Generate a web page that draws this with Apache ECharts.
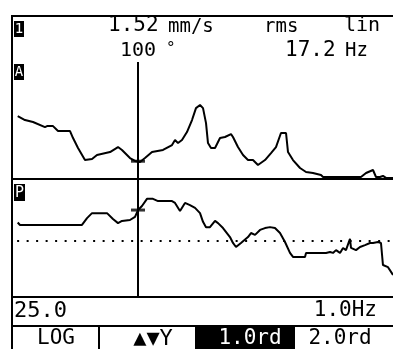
<!DOCTYPE html>
<html><head><meta charset="utf-8">
<script src="https://cdn.jsdelivr.net/npm/echarts@6/dist/echarts.min.js"></script>
<style>html,body{margin:0;padding:0;background:#fff}#c{width:393px;height:349px}</style>
</head><body><div id="c"></div>
<script>
// Spectrum (amplitude, mm/s) vs frequency (Hz)
var ampFreq = [0.78,1.77,2.87,4.50,4.78,5.60,6.28,7.92,8.33,9.01,9.96,10.92,11.60,13.38,14.47,15.01,16.10,16.79,17.47,18.15,19.11,20.61,21.84,22.25,22.66,23.20,23.88,24.57,25.11,25.66,26.07,26.48,26.75,27.16,27.71,28.39,29.07,29.89,30.16,30.84,31.53,32.21,32.89,33.57,34.53,35.35,36.03,36.71,37.40,37.67,38.35,39.31,40.13,41.08,42.17,42.45,46.81,47.63,48.32,49.27,49.68,50.22,50.63,51.04,52.0];
var ampVals = [5.38,5.04,4.87,4.44,4.52,4.52,4.10,4.10,3.50,2.65,1.62,1.71,2.05,2.30,2.73,2.48,1.79,1.54,1.45,1.79,2.30,2.48,2.90,3.33,3.07,3.33,4.01,5.04,6.06,6.32,6.06,4.78,3.07,2.65,2.65,3.50,3.59,3.84,3.59,2.73,2.05,1.62,1.62,1.20,1.62,2.22,2.73,3.93,3.93,2.30,1.62,0.94,0.60,0.51,0.34,0.17,0.17,0.17,0.51,0.77,0.17,0.17,0.26,0.09,0.09];
// Phase (deg) vs frequency (Hz)
var phaseFreq = [0.78,1.09,9.55,10.24,10.92,12.97,13.78,14.47,15.01,16.10,16.79,17.2,17.74,18.42,19.24,19.93,21.84,22.25,22.93,23.61,24.29,24.98,25.66,26.07,26.48,27.02,27.71,28.12,28.80,29.75,30.16,30.57,31.25,32.21,32.62,33.17,33.85,34.53,35.21,35.89,36.58,37.26,37.94,38.35,39.99,40.13,42.86,43.40,43.81,44.22,44.77,45.18,45.58,46.13,46.27,46.95,47.50,48.18,48.86,49.27,49.95,50.36,50.63,51.32,52.0];
var phaseVals = [60,52,52,74,90,90,71,58,65,68,78,100,113,136,136,129,129,123,97,123,116,107,90,62,45,45,65,58,42,13,-6,-19,-6,13,26,20,36,42,45,42,26,-3,-38,-51,-51,-38,-38,-35,-38,-29,-38,-22,-29,7,-22,-29,-19,-13,-6,-6,-3,-6,-77,-84,-109];
var cursorFreq = 17.2, cursorAmp = 1.52, cursorPhase = 100;
var headerTexts = ["1.52", "mm/s", "rms", "lin", "100", "°", "17.2", "Hz"];
var footerTexts = ["25.0", "1.0Hz"];
var buttonTexts = ["LOG", "▲▼Y", "1.0rd", "2.0rd"];

function pairs(xs, ys){ return xs.map(function(x,i){ return [x, ys[i]]; }); }
var F = '"DejaVu Sans Mono", monospace';
function txt(x, y, s, size, align, color){
  return {type:'text', x:x, y:y, silent:true, style:{text:s, fill:color||'#000', font:size+'px '+F, textAlign:align||'left', textVerticalAlign:'middle'}};
}
function ln(x1,y1,x2,y2,w){ return {type:'line', silent:true, shape:{x1:x1,y1:y1,x2:x2,y2:y2}, style:{stroke:'#000', lineWidth:w||2}}; }
function rc(x,y,w,h){ return {type:'rect', silent:true, shape:{x:x,y:y,width:w,height:h}, style:{fill:'#000'}}; }

var chart = echarts.init(document.getElementById('c'), null, {renderer:'canvas'});
var axisX = function(idx){ return {type:'value', gridIndex:idx, min:0, max:52, axisLine:{show:true, onZero:false, lineStyle:{color:'#000', width:2}}, axisTick:{show:false}, axisLabel:{show:false}, splitLine:{show:false}}; };
var cursorLine = {silent:true, symbol:['none','none'], label:{show:false}, lineStyle:{color:'#000', width:2, type:'solid'}, data:[{xAxis:cursorFreq}]};
chart.setOption({
  animation:false,
  backgroundColor:'#fff',
  grid:[{left:12, right:0, top:62, height:117}, {left:12, right:0, top:179, height:118}],
  xAxis:[axisX(0), axisX(1)],
  yAxis:[
    {type:'value', gridIndex:0, min:0, max:10, show:false},
    {type:'value', gridIndex:1, min:-180, max:200, show:false}
  ],
  series:[
    {type:'line', xAxisIndex:0, yAxisIndex:0, data:pairs(ampFreq, ampVals), symbol:'none', lineStyle:{color:'#000', width:2}, markLine:cursorLine},
    {type:'line', xAxisIndex:1, yAxisIndex:1, data:pairs(phaseFreq, phaseVals), symbol:'none', lineStyle:{color:'#000', width:2},
      markLine:{silent:true, symbol:['none','none'], label:{show:false}, data:[{xAxis:cursorFreq, lineStyle:{color:'#000', width:2, type:'solid'}}, [{coord:[0.7,0], lineStyle:{color:'#000', width:2, type:[2,7.5]}}, {coord:[52,0]}]]}},
    {type:'scatter', xAxisIndex:0, yAxisIndex:0, data:[[cursorFreq, cursorAmp]], symbol:'rect', symbolSize:[14,3], itemStyle:{color:'#000'}},
    {type:'scatter', xAxisIndex:1, yAxisIndex:1, data:[[cursorFreq, cursorPhase]], symbol:'rect', symbolSize:[14,3], itemStyle:{color:'#000'}}
  ],
  graphic:[
    ln(11,16,393,16,2), ln(12,15,12,349,2), ln(11,326,393,326,2),
    ln(99,326,99,349,2), ln(196,326,196,349,2), ln(294,326,294,349,2),
    rc(197,327,97,22),
    rc(14,21,10,16), txt(19,29.5,'1',14,'center','#fff'),
    rc(14,64,10,16), txt(19,72.5,'A',14,'center','#fff'),
    rc(14,184,11,17), txt(19.5,193,'P',15,'center','#fff'),
    txt(108,26,headerTexts[0],21), txt(168,27,headerTexts[1],19), txt(264,27,headerTexts[2],19), txt(344,26,headerTexts[3],20),
    txt(120,51,headerTexts[4],20), txt(166,49,headerTexts[5],16),
    txt(285,51,headerTexts[6],21), txt(345,51,headerTexts[7],19),
    txt(14,311,footerTexts[0],22), txt(377,311,footerTexts[1],21,'right'),
    txt(56,339,buttonTexts[0],21,'center'), txt(153,339,buttonTexts[1],22,'center'),
    txt(250,339,buttonTexts[2],21,'center','#fff'), txt(340,339,buttonTexts[3],21,'center')
  ]
});
</script></body></html>
